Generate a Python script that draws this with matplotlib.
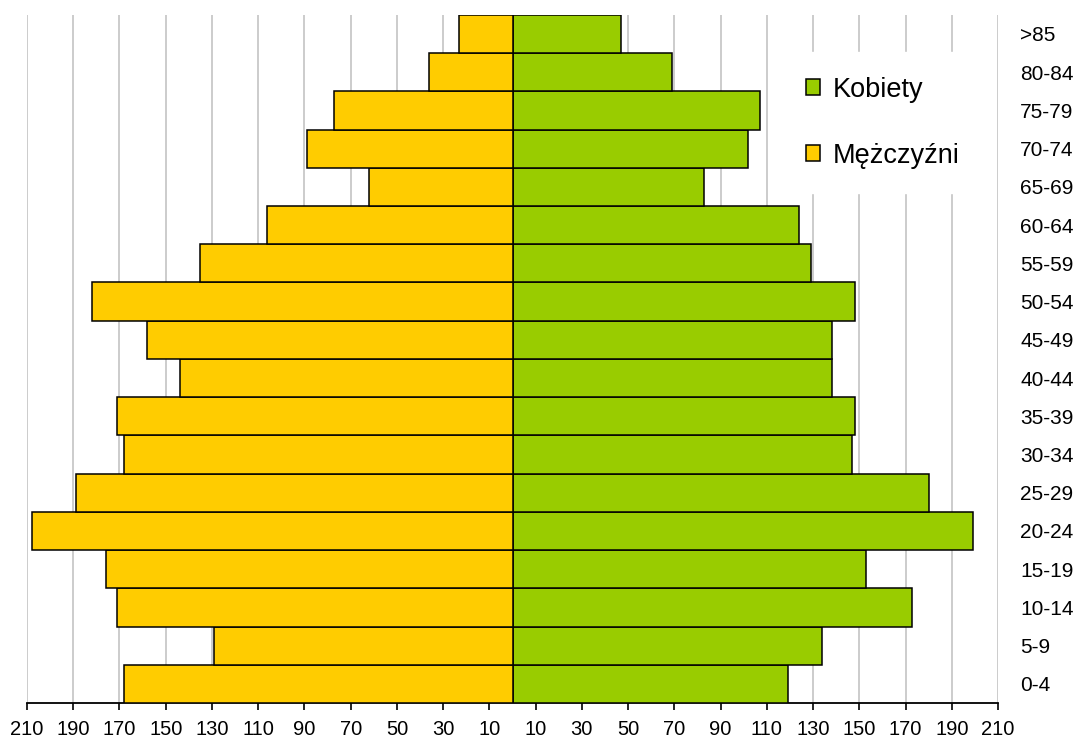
import numpy as np
import matplotlib
matplotlib.use('Agg')
import matplotlib.pyplot as plt

plt.rcParams['font.family'] = ['Liberation Sans', 'DejaVu Sans']

# age groups from bottom to top
groups = ['0-4', '5-9', '10-14', '15-19', '20-24', '25-29', '30-34', '35-39', '40-44',
          '45-49', '50-54', '55-59', '60-64', '65-69', '70-74', '75-79', '80-84', '>85']
men = [168, 129, 171, 176, 208, 189, 168, 171, 144, 158, 182, 135, 106, 62, 89, 77, 36, 23]
women = [119, 134, 173, 153, 199, 180, 147, 148, 138, 138, 148, 129, 124, 83, 102, 107, 69, 47]

tick_vals = [-210, -190, -170, -150, -130, -110, -90, -70, -50, -30, -10,
             10, 30, 50, 70, 90, 110, 130, 150, 170, 190, 210]

fig = plt.figure(figsize=(10.88, 7.44), dpi=100)
ax = fig.add_axes([0.0248, 0.0551, 0.8925, 0.925])

y = np.arange(len(groups))
ax.barh(y, women, height=1.0, color='#99CC00', edgecolor='black', linewidth=1.1, label='Kobiety', zorder=3)
ax.barh(y, [-m for m in men], height=1.0, color='#FFCC00', edgecolor='black', linewidth=1.1, label='Mężczyźni', zorder=3)

ax.set_xlim(-210, 210)
ax.set_ylim(-0.5, len(groups) - 0.5)
ax.set_xticks(tick_vals)
ax.set_xticklabels([str(abs(v)) for v in tick_vals], fontsize=14.5)
ax.xaxis.grid(True, color='#c8c8c8', linestyle='-', linewidth=1.3, zorder=0)

ax.yaxis.tick_right()
ax.set_yticks(y)
ax.set_yticklabels(groups, fontsize=15)
ax.tick_params(axis='y', length=0, pad=16)
ax.tick_params(axis='x', length=5, direction='out', width=1.2, pad=7)

for s in ['top', 'left', 'right']:
    ax.spines[s].set_visible(False)
ax.spines['bottom'].set_linewidth(1.3)

leg = ax.legend(loc='upper left', bbox_to_anchor=(0.7775, 0.9455), frameon=True, fontsize=19.5,
                labelspacing=1.48, handlelength=0.52, handleheight=0.52, handletextpad=0.45,
                borderpad=0.9, borderaxespad=0, fancybox=False)
leg.get_frame().set_facecolor('white')
leg.get_frame().set_edgecolor('white')
leg.get_frame().set_alpha(1)
leg.set_zorder(5)

plt.savefig('out.png', dpi=100)
